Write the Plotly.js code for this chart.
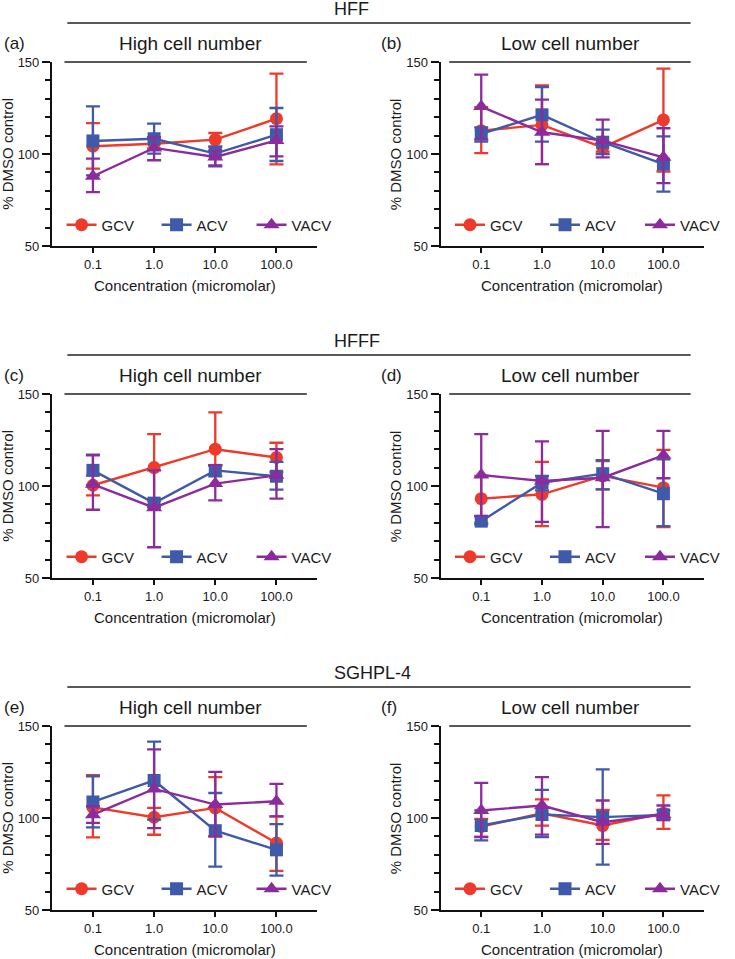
<!DOCTYPE html>
<html><head><meta charset="utf-8">
<script src="https://cdn.plot.ly/plotly-3.0.1.min.js"></script>
<style>html,body{margin:0;padding:0;background:#fff}#chart{width:735px;height:959px}</style>
</head><body><div id="chart"></div>
<script>
const concentrations = [0.1, 1, 10, 100];
const tickLabels = ['0.1', '1.0', '10.0', '100.0'];
const drugs = ['GCV', 'ACV', 'VACV'];
const sectionTitles = ['HFF', 'HFFF', 'SGHPL-4'];
const panelLabels = ['(a)', '(b)', '(c)', '(d)', '(e)', '(f)'];
const panelTitles = ['High cell number', 'Low cell number', 'High cell number', 'Low cell number', 'High cell number', 'Low cell number'];
const xTitle = 'Concentration (micromolar)';
const yTitle = '% DMSO control';

// (a) HFF high
const a_GCV = [104.2, 105.6, 107.8, 119.2];
const a_GCV_hi = [116.8, 108.0, 111.4, 143.7];
const a_GCV_lo = [92.0, 103.0, 104.0, 94.4];
const a_ACV = [107.1, 108.3, 100.2, 110.5];
const a_ACV_hi = [125.9, 116.5, 104.0, 125.0];
const a_ACV_lo = [88.4, 100.2, 93.3, 96.2];
const a_VACV = [87.9, 103.3, 98.4, 107.4];
const a_VACV_hi = [97.5, 109.2, 102.0, 115.0];
const a_VACV_lo = [79.3, 96.6, 93.8, 98.7];
// (b) HFF low
const b_GCV = [112.7, 115.8, 103.6, 118.5];
const b_GCV_hi = [125.5, 137.3, 106.4, 146.4];
const b_GCV_lo = [100.5, 94.5, 101.3, 90.5];
const b_ACV = [110.9, 121.3, 106.4, 94.5];
const b_ACV_hi = [114.5, 136.4, 113.3, 109.6];
const b_ACV_lo = [106.7, 106.7, 100.0, 79.6];
const b_VACV = [125.8, 111.8, 107.3, 98.2];
const b_VACV_hi = [143.1, 129.6, 118.7, 114.0];
const b_VACV_lo = [108.0, 94.5, 98.2, 84.2];
// (c) HFFF high
const c_GCV = [100.4, 110.0, 120.0, 115.5];
const c_GCV_hi = [105.8, 128.2, 140.0, 123.5];
const c_GCV_lo = [94.9, 92.0, 111.0, 107.6];
const c_ACV = [108.5, 90.7, 108.5, 105.3];
const c_ACV_hi = [117.1, 93.0, 111.3, 113.1];
const c_ACV_lo = [100.4, 88.5, 105.3, 98.0];
const c_VACV = [100.9, 88.2, 101.3, 105.8];
const c_VACV_hi = [116.7, 108.5, 111.3, 120.0];
const c_VACV_lo = [87.1, 66.7, 92.2, 93.1];
// (d) HFFF low
const d_GCV = [93.1, 95.5, 105.5, 99.1];
const d_GCV_hi = [105.5, 113.1, 113.6, 119.6];
const d_GCV_lo = [80.0, 78.2, 98.2, 77.6];
const d_ACV = [80.9, 101.8, 106.7, 95.8];
const d_ACV_hi = [83.6, 105.5, 114.0, 114.5];
const d_ACV_lo = [79.1, 97.6, 98.2, 78.2];
const d_VACV = [106.0, 102.7, 104.5, 116.7];
const d_VACV_hi = [128.2, 124.2, 130.0, 130.0];
const d_VACV_lo = [83.6, 80.5, 77.6, 104.2];
// (e) SGHPL-4 high
const e_GCV = [105.8, 100.4, 105.5, 86.4];
const e_GCV_hi = [123.3, 105.5, 122.2, 100.9];
const e_GCV_lo = [89.5, 90.9, 90.0, 71.3];
const e_ACV = [108.7, 120.4, 93.1, 82.7];
const e_ACV_hi = [122.7, 141.5, 113.6, 96.7];
const e_ACV_lo = [94.9, 99.1, 73.6, 68.7];
const e_VACV = [101.8, 115.8, 107.3, 109.1];
const e_VACV_hi = [106.4, 137.3, 125.1, 118.5];
const e_VACV_lo = [97.3, 94.5, 90.0, 100.9];
// (f) SGHPL-4 low
const f_GCV = [95.4, 102.6, 95.9, 102.6];
const f_GCV_hi = [99.5, 110.1, 104.4, 112.3];
const f_GCV_lo = [89.9, 95.9, 88.1, 94.1];
const f_ACV = [95.9, 101.9, 100.5, 101.7];
const f_ACV_hi = [104.1, 115.3, 126.4, 104.1];
const f_ACV_lo = [87.8, 89.6, 74.7, 99.5];
const f_VACV = [104.1, 106.8, 97.7, 101.9];
const f_VACV_hi = [119.1, 122.2, 109.5, 106.8];
const f_VACV_lo = [89.6, 91.0, 85.9, 99.0];

const panels = [
  [[a_GCV, a_GCV_hi, a_GCV_lo], [a_ACV, a_ACV_hi, a_ACV_lo], [a_VACV, a_VACV_hi, a_VACV_lo]],
  [[b_GCV, b_GCV_hi, b_GCV_lo], [b_ACV, b_ACV_hi, b_ACV_lo], [b_VACV, b_VACV_hi, b_VACV_lo]],
  [[c_GCV, c_GCV_hi, c_GCV_lo], [c_ACV, c_ACV_hi, c_ACV_lo], [c_VACV, c_VACV_hi, c_VACV_lo]],
  [[d_GCV, d_GCV_hi, d_GCV_lo], [d_ACV, d_ACV_hi, d_ACV_lo], [d_VACV, d_VACV_hi, d_VACV_lo]],
  [[e_GCV, e_GCV_hi, e_GCV_lo], [e_ACV, e_ACV_hi, e_ACV_lo], [e_VACV, e_VACV_hi, e_VACV_lo]],
  [[f_GCV, f_GCV_hi, f_GCV_lo], [f_ACV, f_ACV_hi, f_ACV_lo], [f_VACV, f_VACV_hi, f_VACV_lo]]
];

const colors = ['#EE3A2A', '#3F5AA8', '#8C2C9C'];
const symbols = ['circle', 'square', 'triangle-up'];

const W = 735, H = 959;
const px = v => v / W;
const py = v => 1 - v / H;
const FONT = 'Liberation Sans, Arial, Helvetica, sans-serif';
const TXT = '#1a1a1a';

const colX = [[54, 330], [458, 732]];
const rowTop = [62, 394, 726];
const plotH = 184;

const traces = [];
const layout = {
  width: W, height: H,
  margin: {l: 0, r: 0, t: 0, b: 0},
  paper_bgcolor: '#fff', plot_bgcolor: 'rgba(0,0,0,0)',
  font: {family: FONT, color: TXT, size: 12},
  showlegend: true,
  shapes: [], annotations: []
};

for (let i = 0; i < 6; i++) {
  const row = Math.floor(i / 2), col = i % 2;
  const sfx = i === 0 ? '' : String(i + 1);
  const top = rowTop[row], bot = top + plotH;
  layout['xaxis' + sfx] = {
    domain: [px(colX[col][0]), px(colX[col][1])],
    anchor: 'y' + sfx,
    type: 'log', range: [-1.67, 2.67],
    tickmode: 'array', tickvals: concentrations, ticktext: tickLabels,
    ticks: 'outside', ticklen: 5, tickwidth: 2, tickcolor: '#111',
    showline: true, linewidth: 2, linecolor: '#111',
    showgrid: false, zeroline: false, fixedrange: true,
    tickfont: {size: 13, color: TXT, family: FONT}
  };
  layout['yaxis' + sfx] = {
    domain: [py(bot), py(top)],
    anchor: 'x' + sfx,
    range: [50, 150], tick0: 50, dtick: 50,
    ticks: 'outside', ticklen: 8, tickwidth: 2, tickcolor: '#111',
    minor: {dtick: 10, tick0: 50, ticks: 'outside', ticklen: 5, tickwidth: 2, tickcolor: '#111', showgrid: false},
    showline: true, linewidth: 2, linecolor: '#111',
    showgrid: false, zeroline: false, fixedrange: true,
    tickfont: {size: 13, color: TXT, family: FONT}
  };
  const legKey = 'legend' + sfx;
  layout[legKey] = {
    orientation: 'h', x: px(colX[col][0] + 10), xanchor: 'left',
    y: py(top + 163), yanchor: 'middle',
    font: {size: 15, color: TXT, family: FONT},
    bgcolor: 'rgba(0,0,0,0)', borderwidth: 0,
    entrywidth: 50, entrywidthmode: 'pixels', traceorder: 'normal'
  };
  panels[i].forEach((s, k) => {
    const [mean, hi, lo] = s;
    traces.push({
      type: 'scatter', mode: 'lines+markers',
      x: concentrations, y: mean, name: drugs[k],
      xaxis: 'x' + sfx, yaxis: 'y' + sfx, legend: legKey,
      line: {color: colors[k], width: 2.4},
      marker: {color: colors[k], symbol: symbols[k], size: k === 2 ? 14 : 13},
      error_y: {type: 'data', symmetric: false,
        array: hi.map((h, j) => h - mean[j]),
        arrayminus: lo.map((l, j) => mean[j] - l),
        color: colors[k], thickness: 2.3, width: 7},
      cliponaxis: false
    });
  });
  // axis titles
  layout.annotations.push({xref: 'paper', yref: 'paper',
    x: px((colX[col][0] + colX[col][1]) / 2), y: py(bot + 39.5), xanchor: 'center', yanchor: 'middle',
    text: xTitle, showarrow: false, font: {size: 15, color: TXT, family: FONT}});
  layout.annotations.push({xref: 'paper', yref: 'paper',
    x: px(colX[col][0] - 47), y: py(top + plotH / 2), xanchor: 'center', yanchor: 'middle',
    textangle: -90, text: yTitle, showarrow: false, font: {size: 15, color: TXT, family: FONT}});
  // subtitle line
  const lx = col === 0 ? [67, 319] : [467, 718];
  layout.shapes.push({type: 'line', xref: 'paper', yref: 'paper',
    x0: px(lx[0]), x1: px(lx[1]), y0: py(top), y1: py(top),
    line: {color: '#222', width: 1.5}});
  layout.annotations.push({xref: 'paper', yref: 'paper',
    x: px(col === 0 ? 198 : 593), y: py(top - 19), xanchor: 'center', yanchor: 'middle',
    text: panelTitles[i], showarrow: false, font: {size: 19, color: TXT, family: FONT}});
  layout.annotations.push({xref: 'paper', yref: 'paper',
    x: px(col === 0 ? 2 : 394), y: py(top - 19), xanchor: 'left', yanchor: 'middle',
    text: panelLabels[i], showarrow: false, font: {size: 17, color: TXT, family: FONT}});
}

for (let r = 0; r < 3; r++) {
  const lineY = rowTop[r] - 39;
  layout.shapes.push({type: 'line', xref: 'paper', yref: 'paper',
    x0: px(70), x1: px(718), y0: py(lineY), y1: py(lineY),
    line: {color: '#222', width: 1.5}});
  layout.annotations.push({xref: 'paper', yref: 'paper',
    x: px(345), y: py(lineY - 14), xanchor: 'left', yanchor: 'middle',
    text: sectionTitles[r], showarrow: false, font: {size: 18, color: TXT, family: FONT}});
}

Plotly.newPlot('chart', traces, layout, {staticPlot: true, displayModeBar: false});
</script>
</body></html>
